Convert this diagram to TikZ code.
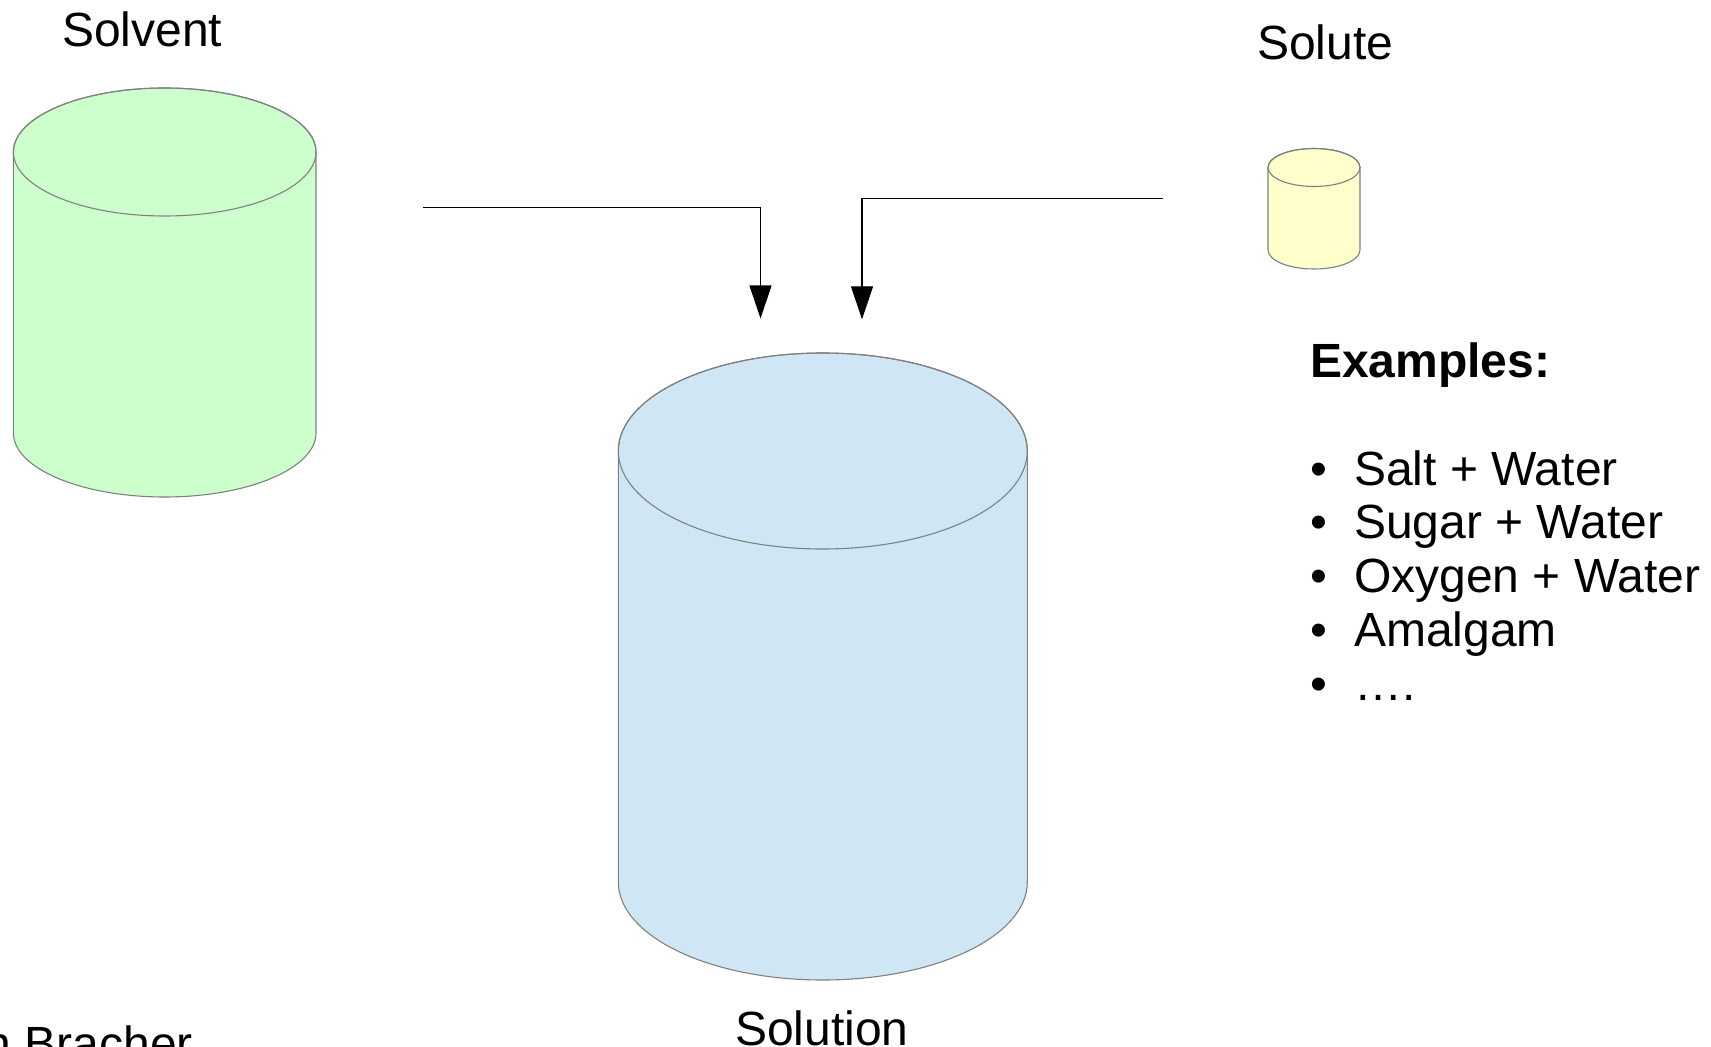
\documentclass[tikz,border=0pt]{standalone}
\usepackage{fontspec}
\setmainfont{Liberation Sans}
\usetikzlibrary{arrows.meta}
\definecolor{cylline}{HTML}{808080}
\definecolor{solventfill}{HTML}{CCFFCC}
\definecolor{solutefill}{HTML}{FFFFCC}
\definecolor{solutionfill}{HTML}{CFE7F5}
\newcommand\mycyl[6]{%
  \path[fill=#6, draw=cylline, line width=0.55pt]
    ({#1-#4},#2) -- ({#1-#4},#3)
    arc[start angle=180, end angle=360, x radius=#4*0.5pt, y radius=#5*0.5pt]
    -- ({#1+#4},#2)
    arc[start angle=0, end angle=180, x radius=#4*0.5pt, y radius=#5*0.5pt] -- cycle;
  \draw[cylline, line width=0.55pt] (#1,#2) ellipse [x radius=#4*0.5pt, y radius=#5*0.5pt];
}
\begin{document}
\begin{tikzpicture}[x=0.5pt, y=-0.5pt,
  lbl/.style={inner sep=0pt, outer sep=0pt, anchor=base west, font=\fontsize{24}{28}\selectfont},
  flow/.style={draw=black, line width=0.55pt, -{Triangle[length=16.5pt, width=11pt]}}]
\useasboundingbox (0,0) rectangle (1711,1047);
\clip (0,0) rectangle (1711,1047);
\fill[white] (0,0) rectangle (1711,1047);

% cylinders
\mycyl{164.7}{152}{433}{151.3}{64}{solventfill}
\mycyl{1314}{167.5}{250}{46}{19}{solutefill}
\mycyl{822.8}{451}{882}{204.5}{98}{solutionfill}
\node[inner sep=0pt, minimum width=151pt, minimum height=204pt] (solventcyl) at (164.7,292.5) {};
\node[inner sep=0pt, minimum width=46pt, minimum height=60pt] (solutecyl) at (1314,208.7) {};
\node[inner sep=0pt, minimum width=204pt, minimum height=314pt] (solutioncyl) at (822.8,666.5) {};

% labels
\node[lbl] (solvent) at (62,46.5) {Solvent};
\node[lbl] (solute) at (1257,60) {Solute};
\node[lbl] (solution) at (735,1045) {Solution};
\node[lbl, anchor=base east] (author) at (193,1060) {n Bracher};

\node[lbl, font=\fontsize{24}{28}\selectfont\bfseries] (examples) at (1310,377.5) {Examples:};
\foreach \t [count=\i from 0] in {Salt + Water, Sugar + Water, Oxygen + Water, Amalgam, ….}{
  \node[lbl] (bul\i) at (1310,{485+53.75*\i}) {•};
  \node[lbl] (item\i) at (1354,{485+53.75*\i}) {\t};
}

% connectors
\coordinate (s1) at (423,207.7);
\coordinate (k1) at (760.5,207.7);
\coordinate (e1) at (760.5,318.5);
\coordinate (s2) at (1163,198.5);
\coordinate (k2) at (862,198.5);
\coordinate (e2) at (862,319.3);
\draw[flow] (s1) -- (k1) -- (e1);
\draw[flow] (s2) -- (k2) -- (e2);
\end{tikzpicture}
\end{document}
